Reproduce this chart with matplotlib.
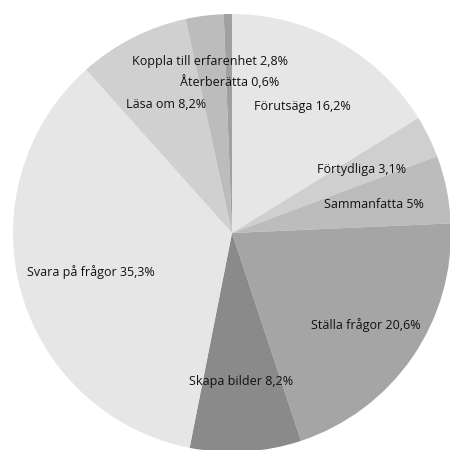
import numpy as np
import matplotlib
matplotlib.use("Agg")
import matplotlib.pyplot as plt

categories = ["Förutsäga", "Förtydliga", "Sammanfatta", "Ställa frågor",
              "Skapa bilder", "Svara på frågor", "Läsa om",
              "Koppla till erfarenhet", "Återberätta"]
values = [16.2, 3.1, 5, 20.6, 8.2, 35.3, 8.2, 2.8, 0.6]
value_labels = ["16,2%", "3,1%", "5%", "20,6%", "8,2%", "35,3%", "8,2%", "2,8%", "0,6%"]
colors = ["#e6e6e6", "#cfcfcf", "#bcbcbc", "#a5a5a5", "#8a8a8a",
          "#e6e6e6", "#d0d0d0", "#bcbcbc", "#a0a0a0"]
# radial position of each label as a fraction of the pie radius
label_radius = [0.66, 0.66, 0.66, 0.74, 0.68, 0.67, 0.66, 0.79, 0.69]

plt.rcParams["font.family"] = ["Open Sans", "DejaVu Sans"]

fig = plt.figure(figsize=(4.5, 4.5), dpi=100)
ax = fig.add_axes([0, 0, 1, 1])
wedges, _ = ax.pie(values, colors=colors, startangle=90, counterclock=False,
                   radius=1.0, center=(0, 0),
                   wedgeprops=dict(linewidth=0))

for w, name, lab, r in zip(wedges, categories, value_labels, label_radius):
    mid = np.deg2rad((w.theta1 + w.theta2) / 2)
    ax.text(r * np.cos(mid), r * np.sin(mid), f"{name} {lab}",
            ha="center", va="center", fontsize=9, color="#111111")

span = 450 / 219
xmin = -232 / 219
ymin = -217 / 219
ax.set_xlim(xmin, xmin + span)
ax.set_ylim(ymin, ymin + span)
ax.set_aspect("equal")
ax.axis("off")

fig.savefig("out.png", dpi=100, facecolor="white")
